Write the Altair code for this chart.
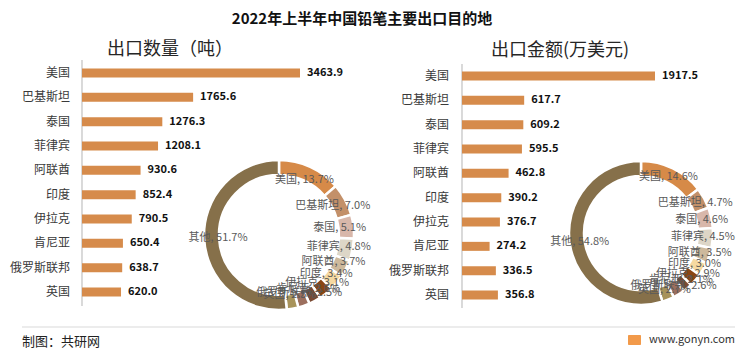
import altair as alt
import pandas as pd

# ---------------- data ----------------
countries = ["美国", "巴基斯坦", "泰国", "菲律宾", "阿联酋", "印度", "伊拉克", "肯尼亚", "俄罗斯联邦", "英国"]
qty = [3463.9, 1765.6, 1276.3, 1208.1, 930.6, 852.4, 790.5, 650.4, 638.7, 620.0]
amt = [1917.5, 617.7, 609.2, 595.5, 462.8, 390.2, 376.7, 274.2, 336.5, 356.8]

pie_names = countries + ["其他"]
qty_pct = [13.7, 7.0, 5.1, 4.8, 3.7, 3.4, 3.1, 2.6, 2.5, 2.5, 51.7]
amt_pct = [14.6, 4.7, 4.6, 4.5, 3.5, 3.0, 2.9, 2.1, 2.6, 2.7, 54.8]
pie_colors = ["#D68A48", "#C39069", "#D8B7AA", "#DDD6C7", "#CDB99C", "#F6D9A1",
              "#8A4614", "#7A4A33", "#9C6F5E", "#A8935A", "#86704A"]

title_text = "2022年上半年中国铅笔主要出口目的地"
sub_left = "出口数量（吨）"
sub_right = "出口金额(万美元)"
footer_left = "制图：共研网"
footer_right = "www.gonyn.com"

FONT = "Noto Sans CJK SC"
BAR = "#D68B4B"

bars_df = pd.DataFrame({"country": countries, "qty": qty, "amt": amt})


def pie_df(pcts):
    return pd.DataFrame({
        "country": pie_names,
        "pct": pcts,
        "idx": list(range(len(pie_names))),
        "label": [f"{c}, {p:.1f}%" for c, p in zip(pie_names, pcts)],
    })


color_scale = alt.Scale(domain=pie_names, range=pie_colors)


def bar_block(field, xrange, yrange, label_x, axis_x, axis_y):
    xs = alt.Scale(range=xrange, zero=True, nice=False)
    ys = alt.Scale(domain=countries, range=yrange, paddingInner=0.63, paddingOuter=0.315)
    base = alt.Chart(bars_df)
    bars = base.mark_bar(color=BAR).encode(
        x=alt.X(f"{field}:Q", scale=xs, axis=None),
        y=alt.Y("country:N", scale=ys, sort=None, axis=None),
    )
    vals = base.mark_text(align="left", baseline="middle", dx=7, fontSize=11,
                          fontWeight="bold", color="#111111", font=FONT).encode(
        x=alt.X(f"{field}:Q", scale=xs, axis=None),
        y=alt.Y("country:N", scale=ys, sort=None, axis=None),
        text=alt.Text(f"{field}:Q", format=".1f"),
    )
    cats = base.mark_text(align="right", baseline="middle", fontSize=12,
                          color="#3A3A3A", font=FONT).encode(
        x=alt.value(label_x),
        y=alt.Y("country:N", scale=ys, sort=None, axis=None),
        text="country:N",
    )
    axis = base.mark_rule(color="#D9D9D9", strokeWidth=1).encode(
        x=alt.value(axis_x), y=alt.value(axis_y[0]), y2=alt.value(axis_y[1]))
    return [axis, bars, vals, cats]


def donut_block(pcts, cx, cy, r_out, r_in, r_lab):
    base = alt.Chart(pie_df(pcts))
    arcs = base.mark_arc(innerRadius=r_in, outerRadius=r_out, stroke="white",
                         strokeWidth=2.5).encode(
        theta=alt.Theta("pct:Q", stack=True),
        order=alt.Order("idx:Q"),
        color=alt.Color("country:N", scale=color_scale, legend=None),
        x=alt.value(cx), y=alt.value(cy),
    )
    labels = base.mark_text(radius=r_lab, fontSize=11, color="#595959", font=FONT).encode(
        theta=alt.Theta("pct:Q", stack=True),
        order=alt.Order("idx:Q"),
        text="label:N",
        x=alt.value(cx), y=alt.value(cy),
    )
    return [arcs, labels]


def note(text, x, y, size, weight="normal", align="center", color="#262626"):
    return alt.Chart(pd.DataFrame({"t": [text]})).mark_text(
        align=align, baseline="middle", fontSize=size, fontWeight=weight,
        color=color, font=FONT).encode(x=alt.value(x), y=alt.value(y), text="t:N")


layers = []
layers += bar_block("qty", [74, 292], [52.8, 296.2], 62, 74, (52, 298))
layers += bar_block("amt", [454, 647], [55.8, 299.2], 441, 454, (56, 300))
layers += donut_block(qty_pct, 271, 227, 75, 60, 61)
layers += donut_block(amt_pct, 633, 225, 72, 57, 62)

layers.append(note(title_text, 354, 11, 15, weight="bold", color="#111111"))
layers.append(note(sub_left, 162, 42, 18))
layers.append(note(sub_right, 552, 43, 18))

footer_rule = alt.Chart(pd.DataFrame({"a": [0]})).mark_rule(color="#D9D9D9", strokeWidth=1).encode(
    x=alt.value(14), x2=alt.value(727), y=alt.value(319))
logo = alt.Chart(pd.DataFrame({"a": [0]})).mark_rect(color="#F29A4A", cornerRadius=1).encode(
    x=alt.value(620), x2=alt.value(633), y=alt.value(327), y2=alt.value(337))
layers += [footer_rule, logo]
layers.append(note(footer_left, 14, 334, 13, align="left", color="#222222"))
layers.append(note(footer_right, 727, 332, 11, align="right", color="#333333"))

chart = alt.layer(*layers).resolve_scale(
    x="independent", y="independent", theta="independent"
).properties(
    width=734, height=344, autosize="none", padding=0
).configure_view(stroke=None)

chart.save("out.html", embed_options={"renderer": "svg", "actions": False})
